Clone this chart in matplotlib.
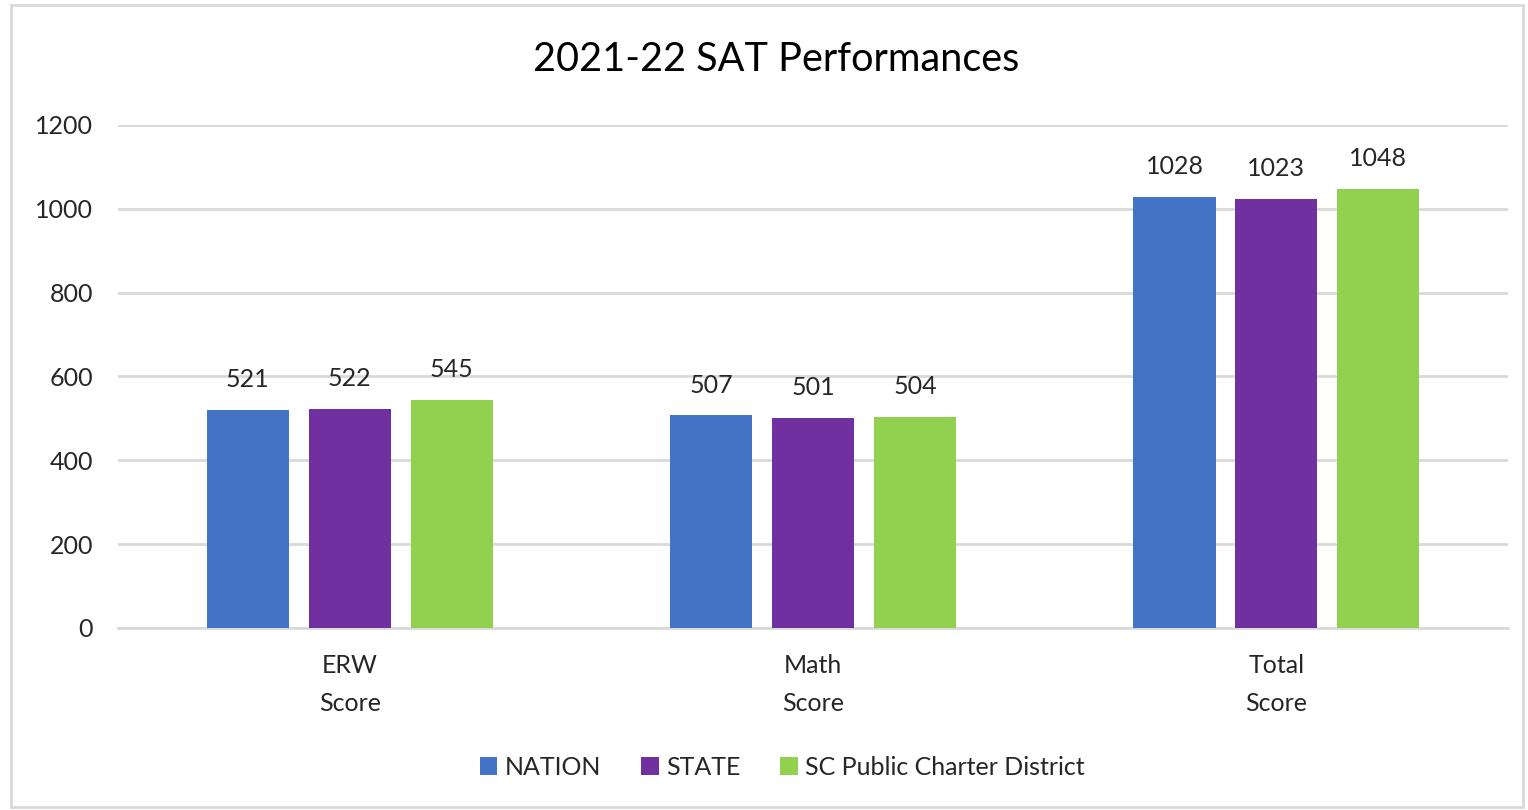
'''
2021-22 SAT Performances - grouped bars
'''

import matplotlib.pyplot as plt
import numpy as np

# Dados
##################################################################
categorias = ["ERW\nScore", "Math\nScore", "Total\nScore"]
series = ["NATION", "STATE", "SC Public Charter District"]
nation = [521, 507, 1028]
state = [522, 501, 1023]
charter = [545, 504, 1048]
cores = ["#4472C4", "#7030A0", "#92D050"]

plt.rcParams['font.family'] = ['Lato', 'DejaVu Sans']

# Figura
##################################################################
fig = plt.figure(figsize=(15.28, 8.10), dpi=100)
ax = fig.add_axes([0.0772, 0.2247, 0.9098, 0.621])

# moldura cinza do gráfico
fig.patches.append(plt.Rectangle((0.007, 0.004), 0.99, 0.99, transform=fig.transFigure,
                                 fill=False, edgecolor="#d9d9d9", linewidth=2))

x = np.arange(len(categorias))
larg = 0.177
passo = 0.22

for i, (nome, valores) in enumerate(zip(series, [nation, state, charter])):
    pos = x + (i - 1) * passo
    barras = ax.bar(pos, valores, width=larg, color=cores[i], label=nome, zorder=3)
    for b, v in zip(barras, valores):
        ax.text(b.get_x() + b.get_width() / 2, v + 45, str(v), ha="center", va="bottom",
                fontsize=18, color="#262626")

ax.set_xlim(-0.5, 2.5)
ax.set_ylim(0, 1200)
ax.set_yticks(np.arange(0, 1201, 200))
ax.set_xticks(x)
ax.set_xticklabels(categorias, fontsize=18, color="#262626", linespacing=1.75)
ax.tick_params(axis="y", labelsize=18, labelcolor="#262626", length=0, pad=18)
ax.tick_params(axis="x", length=0, pad=19)

ax.yaxis.grid(True, color="#d9d9d9", linewidth=2, zorder=0)
for s in ["top", "right", "left"]:
    ax.spines[s].set_visible(False)
ax.spines["bottom"].set_color("#d9d9d9")
ax.spines["bottom"].set_linewidth(2)

fig.text(0.508, 0.926, "2021-22 SAT Performances", ha="center", va="center",
         fontsize=28.5, color="#000000")

fig.legend(loc="center", bbox_to_anchor=(0.512, 0.053), ncol=3, frameon=False,
           fontsize=18, handlelength=0.7, handleheight=0.7, handletextpad=0.3,
           columnspacing=1.6, labelcolor="#262626")

fig.savefig("out.png", dpi=100, facecolor="white")
